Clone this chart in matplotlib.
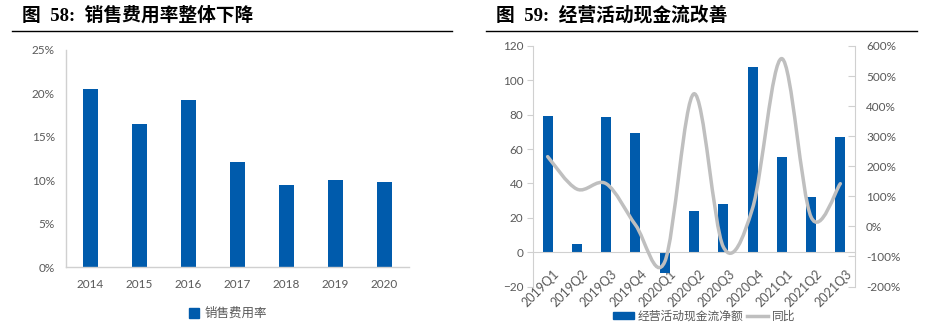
import numpy as np
import matplotlib
matplotlib.use("Agg")
import matplotlib.pyplot as plt
import matplotlib.transforms as mtransforms
from matplotlib.path import Path
from matplotlib.patches import PathPatch
from matplotlib.lines import Line2D
from matplotlib.patches import Patch

plt.rcParams['font.family'] = ['Lato', 'Noto Sans CJK SC', 'DejaVu Sans']

# left chart: 销售费用率
years = ['2014', '2015', '2016', '2017', '2018', '2019', '2020']
sales_rate = [20.5, 16.5, 19.2, 12.1, 9.5, 10.0, 9.8]

# right chart: 经营活动现金流
quarters = ['2019Q1', '2019Q2', '2019Q3', '2019Q4', '2020Q1', '2020Q2',
            '2020Q3', '2020Q4', '2021Q1', '2021Q2', '2021Q3']
cash_flow = [79.4, 4.7, 78.4, 69.3, -12.4, 23.9, 28.0, 107.7, 55.3, 32.2, 67.2]
yoy = [232, 124, 142, 5, -118, 441, -68, 60, 558, 31, 142]

BLUE = '#005BAC'
GRAY_LINE = '#BFBFBF'
TXT = '#595959'
SPINE = '#D0D0D0'

W, H = 928, 324
fig = plt.figure(figsize=(W / 100, H / 100), dpi=100)


def fx(px):
    return px / W


def fy(py):
    return 1 - py / H


# titles with underline
title_kw = dict(fontsize=13.5, fontweight='bold', va='center', ha='left',
                family=['Liberation Serif', 'Noto Sans CJK SC'], color='black')
fig.text(fx(22), fy(15), '图  58:  销售费用率整体下降', **title_kw)
fig.text(fx(496), fy(15), '图  59:  经营活动现金流改善', **title_kw)
fig.add_artist(Line2D([fx(12), fx(452)], [fy(31), fy(31)], color='black', lw=1))
fig.add_artist(Line2D([fx(486), fx(917)], [fy(31), fy(31)], color='black', lw=1))

# ---- left chart
ax1 = fig.add_axes([fx(66), fy(267), fx(409 - 66), (267 - 50) / H])
x1 = np.arange(len(years))
ax1.bar(x1, sales_rate, width=0.31, color=BLUE)
ax1.set_xlim(-0.5, len(years) - 0.5)
ax1.set_ylim(0, 25)
ax1.set_yticks(range(0, 26, 5))
ax1.set_yticklabels([f'{v}%' for v in range(0, 26, 5)])
ax1.set_xticks(x1)
ax1.set_xticklabels(years)
for s in ['top', 'right']:
    ax1.spines[s].set_visible(False)
for s in ['left', 'bottom']:
    ax1.spines[s].set_color(SPINE)
    ax1.spines[s].set_linewidth(1)
ax1.tick_params(axis='both', length=0, labelsize=8.5, labelcolor=TXT)
ax1.tick_params(axis='y', pad=8)
ax1.tick_params(axis='x', pad=9)

fig.legend(handles=[Patch(color=BLUE)], labels=['销售费用率'],
           loc='center', bbox_to_anchor=(fx(228), fy(313)), frameon=False,
           fontsize=9, handlelength=0.8, handleheight=0.8, handletextpad=0.4,
           labelcolor=TXT)

# ---- right chart
ax2 = fig.add_axes([fx(533), fy(286.5), fx(855 - 533), (286.5 - 46) / H])
x2 = np.arange(len(quarters))
ax2.bar(x2, cash_flow, width=0.34, color=BLUE, zorder=2)
ax2.set_xlim(-0.5, len(quarters) - 0.5)
ax2.set_ylim(-20, 120)
ax2.set_yticks(range(-20, 121, 20))
ax2.spines['bottom'].set_position(('data', 0))
for s in ['top', 'right']:
    ax2.spines[s].set_visible(False)
for s in ['left', 'bottom']:
    ax2.spines[s].set_color(SPINE)
ax2.tick_params(axis='x', length=0, labelsize=9, labelcolor=TXT, pad=11)
ax2.tick_params(axis='y', length=4, color=SPINE, labelsize=8.5,
                labelcolor=TXT, pad=3)
ax2.set_xticks(x2)
ax2.set_xticklabels(quarters, rotation=45, ha='right', va='top',
                    rotation_mode='anchor')
shift = mtransforms.ScaledTranslation(5 / 100, 0, fig.dpi_scale_trans)
for lab in ax2.get_xticklabels():
    lab.set_transform(lab.get_transform() + shift)

ax3 = ax2.twinx()
ax3.set_ylim(-200, 600)
ax3.set_yticks(range(-200, 601, 100))
ax3.set_yticklabels([f'{v}%' for v in range(-200, 601, 100)])
for s in ['top', 'left', 'bottom']:
    ax3.spines[s].set_visible(False)
ax3.spines['right'].set_color(SPINE)
ax3.tick_params(axis='y', direction='in', length=5, color=SPINE,
                labelsize=8.5, labelcolor=TXT, pad=8)

# smooth line through yoy points (cubic bezier, catmull-rom style)
pts = np.column_stack([x2, yoy]).astype(float)
verts = [pts[0]]
codes = [Path.MOVETO]
for i in range(len(pts) - 1):
    p0 = pts[i - 1] if i > 0 else pts[i]
    p1, p2 = pts[i], pts[i + 1]
    p3 = pts[i + 2] if i + 2 < len(pts) else pts[i + 1]
    c1 = p1 + (p2 - p0) / 6
    c2 = p2 - (p3 - p1) / 6
    verts += [c1, c2, p2]
    codes += [Path.CURVE4] * 3
ax3.add_patch(PathPatch(Path(verts, codes), fill=False, edgecolor=GRAY_LINE,
                        lw=2.5, zorder=3, capstyle='round'))

fig.legend(handles=[Patch(color=BLUE), Line2D([], [], color=GRAY_LINE, lw=2.5)],
           labels=['经营活动现金流净额', '同比'], ncol=2,
           loc='center', bbox_to_anchor=(fx(704), fy(316)), frameon=False,
           fontsize=8.5, handlelength=1.8, handleheight=0.5, handletextpad=0.3,
           columnspacing=0.3, labelcolor=TXT)

fig.savefig('out.png', dpi=100)
